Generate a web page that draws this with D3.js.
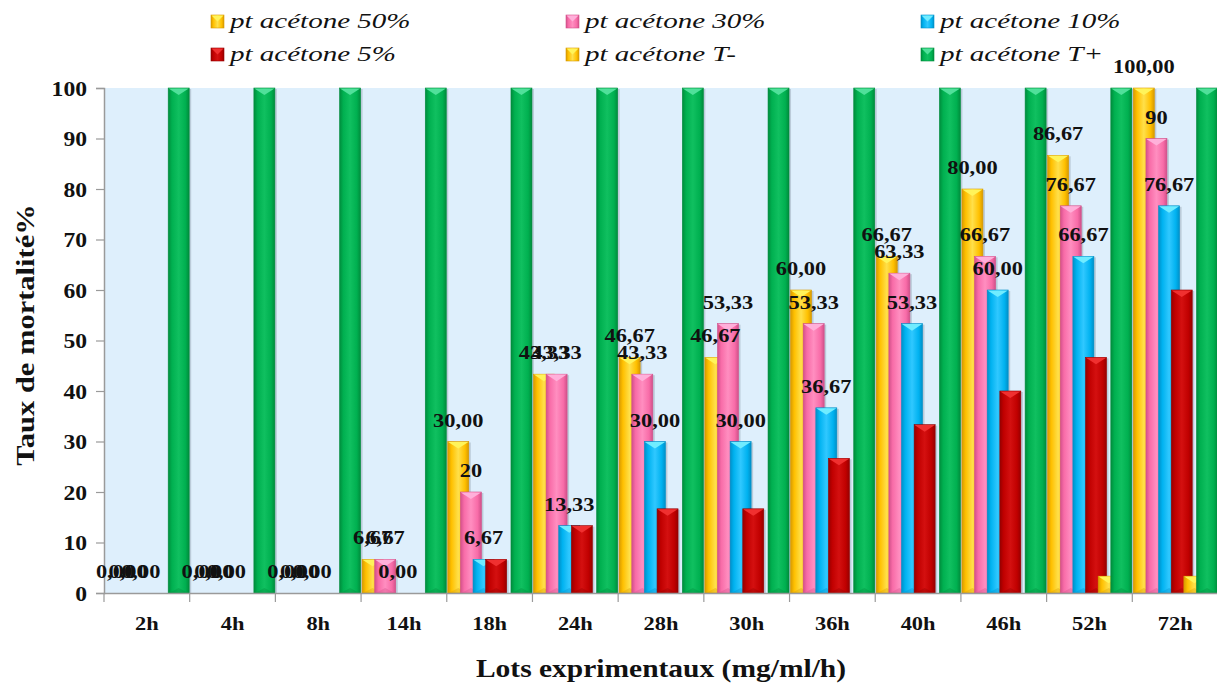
<!DOCTYPE html>
<html>
<head>
<meta charset="utf-8">
<script src="https://cdn.jsdelivr.net/npm/d3@7"></script>
<style>
  body { margin: 0; background: #fff; }
  text { font-family: "Liberation Serif", "Times New Roman", serif; }
</style>
</head>
<body>
<script>
// categories and series
var cats = ["2h","4h","8h","14h","18h","24h","28h","30h","36h","40h","46h","52h","72h"];
var pct50 = [0,0,0,6.67,30,43.33,46.67,46.67,60,66.67,80,86.67,100];
var pct30 = [0,0,0,6.67,20,43.33,43.33,53.33,53.33,63.33,66.67,76.67,90];
var pct10 = [0,0,0,0,6.67,13.33,30,30,36.67,53.33,60,66.67,76.67];
var pct5  = [0,0,0,0,6.67,13.33,16.67,16.67,26.67,33.33,40,46.67,60];
var tMoins = [0,0,0,0,0,0,0,0,0,0,0,3.33,3.33];
var tPlus = [100,100,100,100,100,100,100,100,100,100,100,100,100];
// the 30% labels were typed with mixed formats in the original
var lab30 = ["0,00","0,00","0,00","6,67","20","43,33","43,33","53,33","53,33","63,33","66,67","76,67","90"];
var yTicks = [0,10,20,30,40,50,60,70,80,90,100];

var fmt = function(v) { return d3.format(".2f")(v).replace(".", ","); };

var series = [
  {name: "pt acétone 50%", values: pct50, base: "#FFC000", dark: "#D89A00", light: "#FFE04A", top: "#FFF45A", labels: pct50.map(fmt)},
  {name: "pt acétone 30%", values: pct30, base: "#F86CA8", dark: "#D2508A", light: "#FF8EC0", top: "#FFB0DA", labels: lab30},
  {name: "pt acétone 10%", values: pct10, base: "#00B2F0", dark: "#0090C8", light: "#30C8FF", top: "#70ECFF", labels: pct10.map(fmt)},
  {name: "pt acétone 5%",  values: pct5,  base: "#C00000", dark: "#960000", light: "#D41010", top: "#F03030", labels: null},
  {name: "pt acétone T-",  values: tMoins, base: "#FFC000", dark: "#D89A00", light: "#FFE04A", top: "#FFF45A", labels: null},
  {name: "pt acétone T+",  values: tPlus, base: "#00B050", dark: "#008C3C", light: "#10C060", top: "#50E09A", labels: null}
];

var W = 1217, H = 684;
var plot = {left: 104, right: 1218, top: 88, bottom: 593};
var sx = 1.18;   // text in the source is drawn wider than the serif face

var svg = d3.select("body").append("svg")
    .attr("width", W)
    .attr("height", H);

var defs = svg.append("defs");
series.forEach(function(s, i) {
  var g = defs.append("linearGradient")
      .attr("id", "grad" + i)
      .attr("x1", 0).attr("x2", 1).attr("y1", 0).attr("y2", 0);
  g.append("stop").attr("offset", "0%").attr("stop-color", s.dark);
  g.append("stop").attr("offset", "18%").attr("stop-color", s.base);
  g.append("stop").attr("offset", "50%").attr("stop-color", s.light);
  g.append("stop").attr("offset", "82%").attr("stop-color", s.base);
  g.append("stop").attr("offset", "100%").attr("stop-color", s.dark);
});

var x = d3.scaleBand()
    .domain(cats)
    .range([plot.left, plot.right])
    .padding(0);

var y = d3.scaleLinear()
    .domain([0, 100])
    .range([plot.bottom, plot.top]);

// offset of each series inside a band (bars overlap)
var barW = 21;
var xs = d3.scaleLinear()
    .domain([0, series.length - 1])
    .range([1, x.bandwidth() - barW - 0.5]);

// plot area
svg.append("rect")
    .attr("x", plot.left)
    .attr("y", plot.top)
    .attr("width", plot.right - plot.left)
    .attr("height", plot.bottom - plot.top)
    .attr("fill", "#DEEFFC");

// y axis
var yAxis = svg.append("g")
    .attr("transform", "translate(" + plot.left + ",0)")
    .call(d3.axisLeft(y).tickValues(yTicks).tickSize(8).tickPadding(0));
yAxis.select(".domain").attr("stroke", "#9a9a9a").attr("stroke-width", 1.5);
yAxis.selectAll(".tick line").attr("stroke", "#9a9a9a").attr("stroke-width", 1.2);
yAxis.selectAll(".tick text")
    .attr("x", null)
    .attr("dy", null)
    .attr("transform", "translate(-17,7) scale(" + sx + ",1)")
    .attr("text-anchor", "end")
    .style("font-family", "'Liberation Serif', serif")
    .style("font-weight", "bold")
    .style("font-size", "20px")
    .attr("fill", "#111");

// bars
var groups = svg.append("g").selectAll("g")
    .data(cats)
  .enter().append("g")
    .attr("transform", function(d) { return "translate(" + x(d) + ",0)"; });

series.forEach(function(s, si) {
  groups.each(function(c, ci) {
    var v = s.values[ci];
    if (!v) return;
    var bx = xs(si), by = y(v), bh = y(0) - y(v);
    var g = d3.select(this).append("g")
        .attr("transform", "translate(" + bx + "," + by + ")");
    // faint shadow to the right
    g.append("rect")
        .attr("x", 2).attr("y", 1)
        .attr("width", barW).attr("height", bh - 1)
        .attr("fill", "#7a8a98").attr("opacity", 0.35);
    g.append("rect")
        .attr("width", barW).attr("height", bh)
        .attr("fill", "url(#grad" + si + ")")
        .attr("stroke", s.dark).attr("stroke-width", 0.6);
    var th = Math.min(7, bh / 2);
    g.append("path")
        .attr("d", "M0.4,0.4 L" + (barW - 0.4) + ",0.4 L" + (barW / 2) + "," + th + " Z")
        .attr("fill", s.top);
    g.append("path")
        .attr("d", "M1," + bh + " L" + (barW - 1) + "," + bh + " L" + (barW / 2) + "," + (bh - Math.min(5, bh / 3)) + " Z")
        .attr("fill", s.dark).attr("opacity", 0.35);
  });
});

// x axis
svg.append("line")
    .attr("x1", plot.left).attr("x2", plot.right)
    .attr("y1", plot.bottom + 0.5).attr("y2", plot.bottom + 0.5)
    .attr("stroke", "#9a9a9a").attr("stroke-width", 1.5);
svg.append("g").selectAll("line")
    .data(cats)
  .enter().append("line")
    .attr("x1", function(d) { return x(d); })
    .attr("x2", function(d) { return x(d); })
    .attr("y1", plot.bottom).attr("y2", plot.bottom + 9)
    .attr("stroke", "#9a9a9a").attr("stroke-width", 1.2);
svg.append("g").selectAll("text")
    .data(cats)
  .enter().append("text")
    .attr("transform", function(d) {
      return "translate(" + (x(d) + x.bandwidth() / 2) + ",630) scale(" + sx + ",1)"; })
    .attr("text-anchor", "middle")
    .style("font-weight", "bold")
    .style("font-size", "19px")
    .attr("fill", "#111")
    .text(function(d) { return d; });

// data labels (50%, 30%, 10%)
var labG = svg.append("g");
series.forEach(function(s, si) {
  if (!s.labels) return;
  cats.forEach(function(c, ci) {
    labG.append("text")
        .attr("transform", "translate(" + (x(c) + xs(si) + barW / 2) + "," + (y(s.values[ci]) - 15) + ") scale(" + sx + ",1)")
        .attr("text-anchor", "middle")
        .style("font-weight", "bold")
        .style("font-size", "19px")
        .attr("fill", "#111")
        .text(s.labels[ci]);
  });
});

// axis titles
svg.append("text")
    .attr("transform", "translate(" + ((plot.left + plot.right) / 2) + ",677) scale(" + sx + ",1)")
    .attr("text-anchor", "middle")
    .style("font-weight", "bold")
    .style("font-size", "25px")
    .attr("fill", "#111")
    .text("Lots exprimentaux (mg/ml/h)");

svg.append("text")
    .attr("transform", "translate(34,335) rotate(-90) scale(1.22,1)")
    .attr("text-anchor", "middle")
    .style("font-weight", "bold")
    .style("font-size", "25px")
    .attr("fill", "#111")
    .text("Taux de mortalité%");

// legend, 2 rows x 3 columns
var legX = [211, 566, 921], legY = [28, 61];
var leg = svg.append("g").selectAll("g")
    .data(series)
  .enter().append("g")
    .attr("transform", function(d, i) {
      return "translate(" + legX[i % 3] + "," + legY[Math.floor(i / 3)] + ")"; });
leg.append("rect")
    .attr("x", 0).attr("y", -13)
    .attr("width", 13).attr("height", 13)
    .attr("fill", function(d, i) { return "url(#grad" + i + ")"; })
    .attr("stroke", function(d) { return d.dark; }).attr("stroke-width", 0.6);
leg.append("path")
    .attr("d", "M0.5,-12.5 L12.5,-12.5 L6.5,-6.5 Z")
    .attr("fill", function(d) { return d.top; });
leg.append("text")
    .attr("transform", "translate(19,0) scale(1.32,1)")
    .style("font-style", "italic")
    .style("font-size", "22px")
    .attr("fill", "#111")
    .text(function(d) { return d.name; });
</script>
</body>
</html>
